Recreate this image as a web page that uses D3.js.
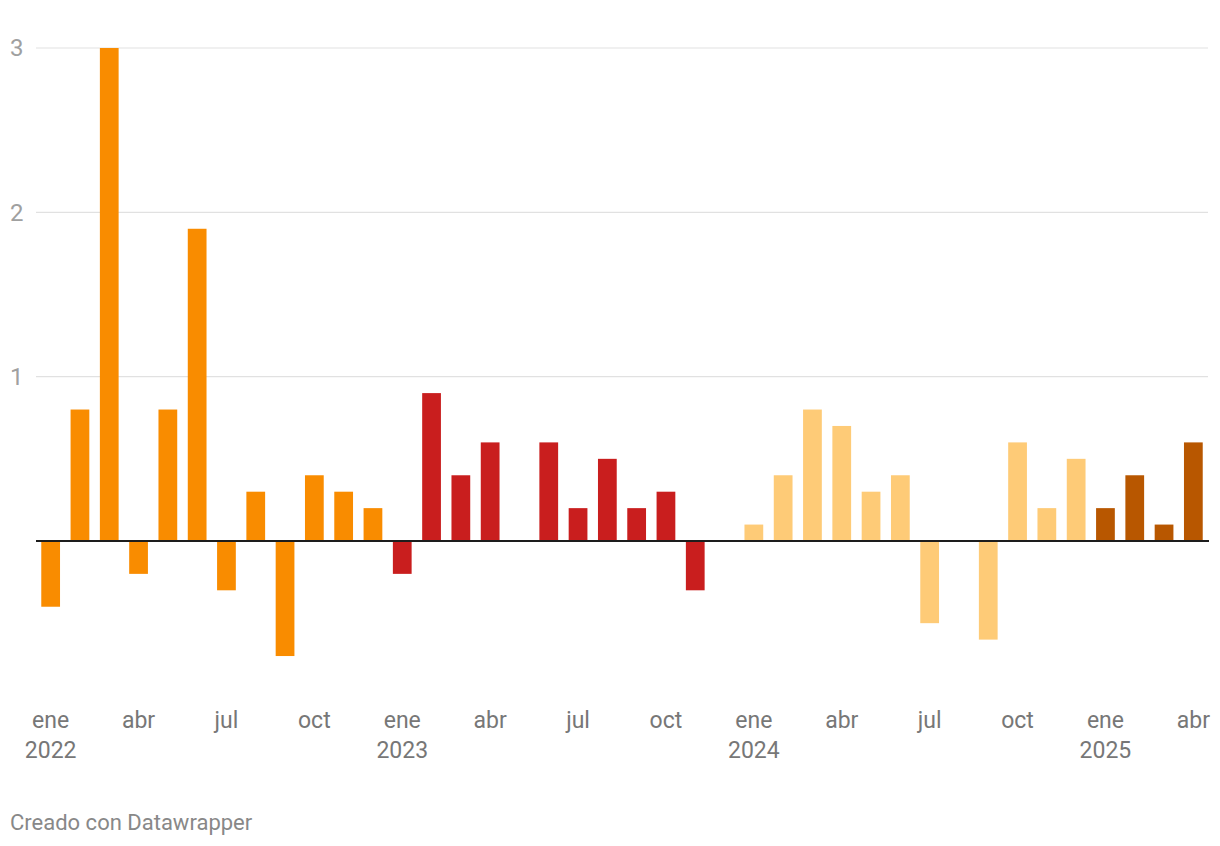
<!DOCTYPE html>
<html>
<head>
<meta charset="utf-8">
<script src="https://cdn.jsdelivr.net/npm/d3@7"></script>
<style>
  body { margin: 0; background: #fff; }
  svg { display: block; font-family: Roboto, "Noto Sans", sans-serif; }
</style>
</head>
<body>
<div id="chart"></div>
<script>
// months Jan 2022 .. Apr 2025
var monthNames = ["ene", "feb", "mar", "abr", "may", "jun", "jul", "ago", "sep", "oct", "nov", "dic"];
var years = [2022, 2023, 2024, 2025];
var values2022 = [-0.4, 0.8, 3.0, -0.2, 0.8, 1.9, -0.3, 0.3, -0.7, 0.4, 0.3, 0.2];
var values2023 = [-0.2, 0.9, 0.4, 0.6, 0, 0.6, 0.2, 0.5, 0.2, 0.3, -0.3, 0];
var values2024 = [0.1, 0.4, 0.8, 0.7, 0.3, 0.4, -0.5, 0, -0.6, 0.6, 0.2, 0.5];
var values2025 = [0.2, 0.4, 0.1, 0.6];
var yearColors = ["#f98c00", "#c91e1e", "#fecb77", "#b85700"];
var yTicks = [1, 2, 3];
var xTickMonths = ["ene", "abr", "jul", "oct"];

var data = [];
[values2022, values2023, values2024, values2025].forEach(function(vals, yi) {
  vals.forEach(function(v, mi) {
    data.push({ key: years[yi] + "-" + mi, year: years[yi], yi: yi, month: monthNames[mi], value: v });
  });
});

var W = 1220, H = 846;
var svg = d3.select("#chart").append("svg").attr("width", W).attr("height", H);

var x = d3.scaleBand()
  .domain(data.map(function(d) { return d.key; }))
  .range([36, 1208])
  .paddingInner(0.36)
  .paddingOuter(0.18);

var y = d3.scaleLinear().domain([0, 3]).range([541, 48]);

// gridlines
svg.append("g").selectAll("line")
  .data(yTicks).enter().append("line")
  .attr("x1", 36).attr("x2", 1208)
  .attr("y1", function(d) { return y(d); })
  .attr("y2", function(d) { return y(d); })
  .attr("stroke", "#e1e1e1").attr("stroke-width", 1.2);

svg.append("g").selectAll("text")
  .data(yTicks).enter().append("text")
  .attr("x", 10)
  .attr("y", function(d) { return y(d); })
  .attr("dy", "0.35em")
  .attr("fill", "#a0a0a0")
  .style("font-size", "24px")
  .text(function(d) { return d; });

// bars
svg.append("g").selectAll("rect")
  .data(data.filter(function(d) { return d.value !== 0; })).enter().append("rect")
  .attr("x", function(d) { return x(d.key); })
  .attr("width", x.bandwidth())
  .attr("y", function(d) { return y(Math.max(0, d.value)); })
  .attr("height", function(d) { return Math.abs(y(d.value) - y(0)); })
  .attr("fill", function(d) { return yearColors[d.yi]; });

// zero line
svg.append("line")
  .attr("x1", 36).attr("x2", 1209)
  .attr("y1", y(0)).attr("y2", y(0))
  .attr("stroke", "#1d1d1d").attr("stroke-width", 2);

// x labels
var lastKey = data[data.length - 1].key;
var xt = svg.append("g").selectAll("text")
  .data(data.filter(function(d) { return xTickMonths.indexOf(d.month) >= 0; })).enter().append("text")
  .attr("x", function(d) { return d.key === lastKey ? 1210 : x(d.key) + x.bandwidth() / 2; })
  .attr("y", 728)
  .attr("text-anchor", function(d) { return d.key === lastKey ? "end" : "middle"; })
  .attr("fill", "#777")
  .style("font-size", "23px");
xt.append("tspan").text(function(d) { return d.month; });
xt.filter(function(d) { return d.month === "ene"; })
  .append("tspan")
  .attr("x", function(d) { return x(d.key) + x.bandwidth() / 2; })
  .attr("dy", 30)
  .text(function(d) { return d.year; });

svg.append("text")
  .attr("x", 10).attr("y", 830)
  .attr("fill", "#888")
  .style("font-size", "22px")
  .text("Creado con Datawrapper");
</script>
</body>
</html>
